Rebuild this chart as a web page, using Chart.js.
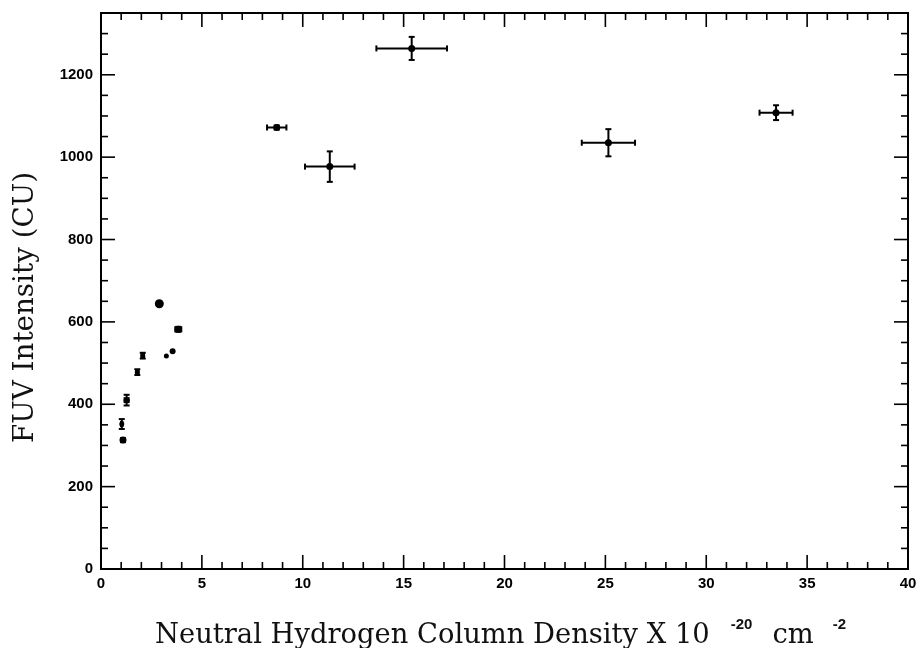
<!DOCTYPE html>
<html>
<head>
<meta charset="utf-8">
<script src="https://cdn.jsdelivr.net/npm/chart.js@4.4.0/dist/chart.umd.min.js"></script>
<style>
  html, body { margin: 0; padding: 0; background: #fff; }
  #wrap { width: 917px; height: 648px; }
</style>
</head>
<body>
<div id="wrap"><canvas id="chart" width="917" height="648"></canvas></div>
<script>
// column density (10^20 cm^-2) against FUV intensity (CU), with 1-sigma errors
const nH     = [1.03, 1.09, 1.27, 1.80, 2.07, 2.89, 3.24, 3.55, 3.83, 8.71, 11.34, 15.40, 25.15, 33.46];
const fuv    = [352, 313, 410, 478, 518, 644, 517, 529, 582, 1072, 977, 1264, 1035, 1108];
const nHErr  = [0.04, 0, 0.1, 0.06, 0.06, 0, 0, 0, 0.15, 0.48, 1.23, 1.75, 1.32, 0.82];
const fuvErr = [12, 5, 13, 7, 7, 0, 0, 0, 6, 5, 37, 28, 33, 18];
const dotSize = [2.5, 3.5, 3, 2.5, 2.5, 4.5, 2.5, 3, 3.5, 3.5, 3.5, 3.5, 3.5, 3.5];

const xTicks = [0, 5, 10, 15, 20, 25, 30, 35, 40];
const yTicks = [0, 200, 400, 600, 800, 1000, 1200];
const xMinor = 1, yMinor = 50;

const tickFont = { family: '"Liberation Sans", Arial, sans-serif', size: 15, weight: 'bold' };
const titleFamily = '"DejaVu Serif", serif';

function seg(ctx, x0, y0, x1, y1) {
  ctx.beginPath();
  ctx.moveTo(x0, y0);
  ctx.lineTo(x1, y1);
  ctx.stroke();
}

// keep the plot box where the layout padding puts it
function noScalePadding(s) {
  s.paddingTop = s.paddingBottom = s.paddingLeft = s.paddingRight = 0;
}

// error bars, frame with inward ticks on all four sides, axis titles
const decorations = {
  id: 'decorations',
  beforeDatasetsDraw(chart) {
    const { ctx, scales: { x, y } } = chart;
    ctx.save();
    ctx.strokeStyle = '#000';
    ctx.lineWidth = 2;
    const cap = 3;
    nH.forEach((v, i) => {
      const px = x.getPixelForValue(v), py = y.getPixelForValue(fuv[i]);
      if (nHErr[i] > 0) {
        const x0 = x.getPixelForValue(v - nHErr[i]), x1 = x.getPixelForValue(v + nHErr[i]);
        seg(ctx, x0, py, x1, py);
        seg(ctx, x0, py - cap, x0, py + cap);
        seg(ctx, x1, py - cap, x1, py + cap);
      }
      if (fuvErr[i] > 0) {
        const y0 = y.getPixelForValue(fuv[i] - fuvErr[i]), y1 = y.getPixelForValue(fuv[i] + fuvErr[i]);
        seg(ctx, px, y0, px, y1);
        seg(ctx, px - cap, y0, px + cap, y0);
        seg(ctx, px - cap, y1, px + cap, y1);
      }
    });
    ctx.restore();
  },
  afterDraw(chart) {
    const { ctx, chartArea: a, scales: { x, y } } = chart;
    ctx.save();
    ctx.strokeStyle = '#000';
    ctx.lineWidth = 2;
    ctx.strokeRect(a.left, a.top, a.right - a.left, a.bottom - a.top);

    ctx.lineWidth = 1.6;
    const xMajor = xTicks[1] - xTicks[0], yMajor = yTicks[1] - yTicks[0];
    for (let v = x.min + xMinor; v < x.max - 1e-9; v += xMinor) {
      const px = x.getPixelForValue(v);
      const len = Math.abs(v % xMajor) < 1e-9 ? 14 : 7;
      seg(ctx, px, a.bottom, px, a.bottom - len);
      seg(ctx, px, a.top, px, a.top + len);
    }
    for (let v = y.min + yMinor; v < y.max - 1e-9; v += yMinor) {
      const py = y.getPixelForValue(v);
      const len = Math.abs(v % yMajor) < 1e-9 ? 14 : 7;
      seg(ctx, a.left, py, a.left + len, py);
      seg(ctx, a.right, py, a.right - len, py);
    }

    // x title with superscripts
    ctx.fillStyle = '#111';
    const xMain = 'Neutral Hydrogen Column Density X 10';
    ctx.font = '100px ' + titleFamily;
    const size = 100 * 555 / ctx.measureText(xMain).width;
    const mainFont = size.toFixed(2) + 'px ' + titleFamily;
    const supFont = 'bold 15px "Liberation Sans", Arial, sans-serif';
    ctx.font = mainFont;
    ctx.textBaseline = 'alphabetic';
    ctx.textAlign = 'left';
    let tx = 155;
    ctx.fillText(xMain, tx, 643);
    tx += ctx.measureText(xMain).width + 21;
    ctx.font = supFont;
    ctx.fillText('-20', tx, 629);
    tx += ctx.measureText('-20').width + 20;
    ctx.font = mainFont;
    ctx.fillText('cm', tx, 643);
    tx += ctx.measureText('cm').width + 19;
    ctx.font = supFont;
    ctx.fillText('-2', tx, 629);

    // y title, rotated
    const yMain = 'FUV Intensity (CU)';
    ctx.font = '100px ' + titleFamily;
    const ySize = 100 * 271 / ctx.measureText(yMain).width;
    ctx.font = ySize.toFixed(2) + 'px ' + titleFamily;
    ctx.translate(33, 443);
    ctx.rotate(-Math.PI / 2);
    ctx.fillText(yMain, 0, 0);
    ctx.restore();
  }
};

const ctx = document.getElementById('chart').getContext('2d');
new Chart(ctx, {
  type: 'scatter',
  data: {
    datasets: [{
      data: nH.map((v, i) => ({ x: v, y: fuv[i] })),
      pointRadius: dotSize,
      pointBackgroundColor: '#000',
      pointBorderWidth: 0
    }]
  },
  options: {
    responsive: false,
    animation: false,
    layout: { padding: { top: 13, right: 9, left: 0, bottom: 0 } },
    plugins: { legend: { display: false }, tooltip: { enabled: false } },
    scales: {
      x: {
        type: 'linear', min: 0, max: 40,
        grid: { display: false, drawTicks: false },
        border: { display: false },
        ticks: { font: tickFont, color: '#000', padding: 6, maxRotation: 0, autoSkip: false,
                 callback: v => String(v) },
        afterBuildTicks: s => { s.ticks = xTicks.map(v => ({ value: v })); },
        afterFit: s => { s.height = 79; noScalePadding(s); }
      },
      y: {
        type: 'linear', min: 0, max: 1350,
        grid: { display: false, drawTicks: false },
        border: { display: false },
        ticks: { font: tickFont, color: '#000', padding: 8, autoSkip: false,
                 callback: v => String(v) },
        afterBuildTicks: s => { s.ticks = yTicks.map(v => ({ value: v })); },
        afterFit: s => { s.width = 101; noScalePadding(s); }
      }
    }
  },
  plugins: [decorations]
});
</script>
</body>
</html>
